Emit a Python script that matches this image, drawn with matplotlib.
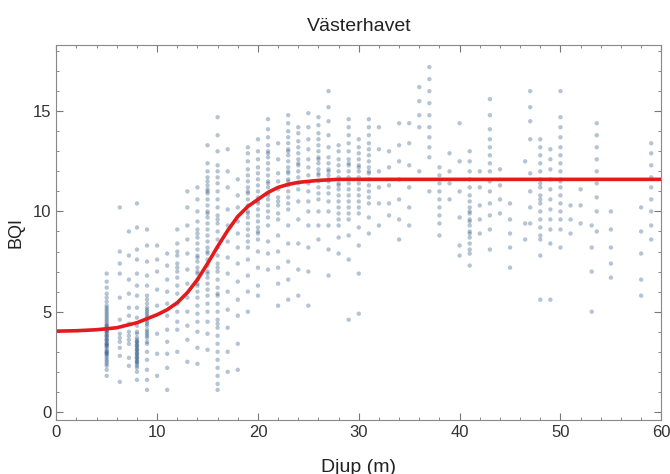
import matplotlib
matplotlib.use("Agg")
import matplotlib.pyplot as plt
from matplotlib.ticker import MultipleLocator

col_05 = [1.8, 2.1, 2.3, 2.5, 2.6, 2.8, 2.9, 3.0, 3.1, 3.2, 3.3, 3.4, 3.5, 3.6, 3.7, 3.8,
          3.9, 4.0, 4.1, 4.2, 4.3, 4.4, 4.5, 4.6, 4.8, 4.9, 5.0, 5.1, 5.3, 5.5, 5.7, 5.9,
          6.2, 6.5, 6.9, 2.4, 2.7, 3.0, 3.3, 3.6, 4.0, 4.3, 4.7, 5.2, 3.4, 2.9, 4.1, 3.8]
col_06 = [10.2, 8.0, 6.9, 5.7, 4.6, 3.9, 3.5, 3.2, 2.8, 1.5, 7.4, 3.7]
col_07 = [9.0, 7.8, 6.6, 5.9, 5.2, 4.4, 4.0, 3.8, 3.4, 2.7, 2.3, 4.8, 3.6]
col_08 = [10.4, 9.2, 8.1, 7.6, 6.9, 6.3, 5.8, 5.2, 4.7, 4.3, 4.0, 3.9, 3.7, 3.6, 3.5, 3.4,
          3.3, 3.2, 3.1, 3.0, 2.9, 2.8, 2.7, 2.6, 2.5, 2.4, 2.3, 2.2, 2.0, 1.6, 3.3, 2.9,
          3.1, 2.7, 3.5, 2.5]
col_09 = [9.1, 8.3, 7.5, 6.8, 6.3, 5.8, 5.6, 5.4, 5.2, 5.0, 4.9, 4.7, 4.6, 4.4, 4.3, 4.1,
          4.0, 3.8, 3.7, 3.5, 3.4, 3.0, 2.6, 2.1, 1.6, 1.1, 5.1, 4.5, 3.9, 4.8]
col_10 = [8.3, 7.0, 6.1, 5.3, 3.9, 2.9, 1.8, 7.6]
col_11 = [7.9, 7.3, 6.6, 6.0, 5.4, 4.8, 4.1, 3.5, 2.9, 2.2, 1.1]
col_12 = [9.1, 8.4, 7.8, 7.4, 7.2, 7.0, 6.7, 6.3, 5.9, 5.4, 5.0, 4.5, 4.1, 3.0, 8.0]
col_13 = [11.0, 10.2, 9.3, 8.6, 7.9, 7.1, 6.4, 5.7, 5.0, 4.3, 3.6, 2.5]
col_14 = [11.2, 10.6, 10.0, 9.5, 9.1, 8.7, 8.4, 8.1, 7.8, 7.5, 7.2, 6.9, 6.6, 6.3, 6.0,
          5.7, 5.3, 4.9, 4.5, 4.0, 3.2, 2.4, 7.0, 6.4, 7.7, 8.9]
col_15 = [12.4, 12.0, 11.7, 11.5, 11.3, 11.1, 10.9, 10.6, 10.3, 10.0, 9.7, 9.4, 9.1, 8.8,
          8.5, 8.2, 7.9, 7.6, 7.3, 7.0, 6.7, 6.4, 6.1, 5.8, 5.4, 5.0, 4.5, 3.9, 3.1, 11.0,
          9.9, 8.0, 6.9, 13.3]
col_16 = [14.7, 13.8, 13.0, 12.3, 12.0, 11.7, 11.4, 11.0, 10.6, 10.2, 9.8, 9.4, 9.0, 8.6,
          8.2, 7.8, 7.4, 7.0, 6.6, 6.2, 5.8, 5.4, 5.0, 4.6, 4.2, 3.8, 3.4, 3.0, 2.6, 2.2,
          1.8, 1.4, 1.1, 9.6, 7.2, 5.9, 4.4]
col_17 = [13.1, 12.0, 11.2, 10.1, 9.3, 8.5, 7.7, 6.9, 6.0, 5.1, 4.2, 3.0, 2.0]
col_18 = [11.6, 10.8, 10.2, 9.5, 8.9, 8.2, 7.4, 6.5, 5.6, 4.8, 3.4, 2.1]
col_19 = [13.2, 12.9, 12.5, 12.1, 11.8, 11.5, 11.2, 10.9, 10.6, 10.3, 10.0, 9.7, 9.4, 9.1,
          8.8, 8.5, 8.2, 7.6, 6.8, 6.0, 5.0, 11.0, 9.9]
col_20 = [13.6, 13.0, 12.6, 12.2, 11.9, 11.6, 11.3, 11.0, 10.7, 10.4, 10.1, 9.8, 9.5, 9.2,
          8.9, 8.6, 8.0, 7.2, 6.3, 5.8, 10.5, 9.0]
col_21 = [14.6, 14.1, 13.7, 13.3, 13.0, 12.7, 12.4, 12.1, 11.8, 11.5, 11.2, 10.9, 10.6,
          10.3, 10.0, 9.7, 9.3, 8.5, 7.9, 7.1, 12.9, 11.4, 10.8]
col_22 = [13.4, 12.6, 11.9, 11.5, 11.1, 10.7, 10.3, 9.9, 9.6, 8.8, 8.0, 7.2, 6.4, 5.3, 10.5]
col_23 = [14.8, 14.4, 14.0, 13.7, 13.4, 13.1, 12.8, 12.5, 12.2, 11.9, 11.6, 11.3, 11.0,
          10.7, 10.4, 10.1, 9.3, 8.4, 7.5, 6.6, 5.6, 12.0, 11.5, 13.0]
col_24 = [14.2, 13.9, 13.5, 13.2, 12.9, 12.6, 12.3, 12.0, 11.7, 11.4, 11.1, 10.5, 9.6, 8.4,
          7.1, 5.8, 12.4]
col_25 = [14.9, 14.2, 13.6, 13.1, 12.6, 12.2, 11.8, 11.4, 11.0, 10.5, 10.0, 9.3, 8.2, 7.0, 5.3]
col_26 = [14.7, 14.3, 13.9, 13.6, 13.3, 13.0, 12.7, 12.4, 12.1, 11.8, 11.5, 11.2, 10.9,
          10.6, 10.0, 9.3, 8.6, 12.6, 11.9]
col_27 = [16.0, 15.2, 14.5, 13.8, 13.2, 12.7, 12.4, 12.1, 11.8, 11.5, 11.2, 10.9, 10.5,
          10.0, 9.3, 8.1, 6.8, 12.0, 11.6]
col_28 = [13.3, 13.0, 12.6, 12.3, 12.0, 11.7, 11.4, 11.1, 10.8, 10.5, 10.2, 9.9, 9.6, 9.3,
          8.7, 7.9, 11.3]
col_29 = [14.6, 14.2, 13.8, 13.4, 13.0, 12.6, 12.3, 12.0, 11.7, 11.4, 11.1, 10.8, 10.5,
          10.2, 9.9, 9.6, 8.8, 7.6, 4.6, 12.4]
col_30 = [13.6, 13.2, 12.9, 12.6, 12.3, 12.0, 11.7, 11.4, 11.1, 10.8, 10.5, 10.2, 9.9, 9.2,
          8.3, 6.9, 4.9, 12.2]
col_31 = [14.6, 14.2, 13.8, 13.4, 13.1, 12.8, 12.5, 12.2, 11.9, 11.6, 11.3, 11.0, 10.7,
          10.4, 9.7, 8.9, 12.0]
col_32 = [14.2, 13.1, 12.0, 11.2, 10.4, 9.3]
col_33 = [13.0, 12.2, 11.3, 10.4, 9.8]
col_34 = [14.4, 13.3, 12.5, 11.6, 10.6, 9.6, 8.6]
col_35 = [14.4, 13.4, 12.3, 11.2, 10.2, 9.3]
col_36 = [16.2, 15.5, 14.8, 14.2, 12.0]
col_37 = [17.2, 16.6, 16.0, 15.4, 14.8, 14.2, 13.7, 13.2, 12.7, 11.0]
col_38 = [12.2, 11.8, 11.4, 11.0, 10.6, 10.2, 9.8, 9.4, 8.8]
col_39 = [12.9, 12.0, 11.4, 10.6]
col_40 = [14.4, 12.5, 11.0, 9.7, 8.3, 7.8]
col_41 = [13.0, 12.5, 12.0, 11.6, 11.2, 10.8, 10.5, 10.2, 9.9, 9.6, 9.3, 9.0, 8.7, 8.4,
          8.1, 7.9, 7.3, 9.5, 10.0, 8.9]
col_42 = [12.0, 11.2, 10.3, 9.6, 8.9]
col_43 = [15.6, 14.8, 14.1, 13.6, 13.2, 12.8, 12.4, 12.0, 11.5, 11.0, 10.4, 9.8, 9.1, 8.1]
col_44 = [12.1, 11.3, 10.6, 9.9]
col_45 = [10.4, 9.6, 8.9, 8.2, 7.2]
col_46 = [9.4, 8.6, 12.5]
col_47 = [16.0, 15.2, 14.5, 13.6, 11.9, 11.0, 10.2, 9.4]
col_48 = [13.6, 13.2, 12.8, 12.4, 12.0, 11.6, 11.2, 10.8, 10.4, 10.0, 9.6, 9.2, 8.8, 8.6,
          7.8, 5.6, 11.4, 10.6]
col_49 = [13.1, 12.6, 12.1, 11.6, 11.1, 10.6, 10.1, 9.6, 9.1, 8.4, 5.6]
col_50 = [16.0, 14.7, 14.2, 13.7, 13.2, 12.8, 12.4, 12.0, 11.6, 11.2, 10.8, 10.4, 10.0,
          9.6, 9.1, 8.2, 11.5]
col_51 = [10.3, 9.6, 8.9]
col_52 = [11.1, 10.3, 9.4]
col_53 = [9.3, 8.2, 7.0, 5.0]
col_54 = [14.4, 13.8, 13.2, 12.6, 12.0, 11.4, 10.7, 10.0, 9.0]
col_55 = [10.0, 9.1, 8.2, 7.4, 6.7]
col_58 = [10.2, 9.0, 7.9, 6.6, 5.8]
col_59 = [13.4, 12.9, 12.3, 11.7, 11.2, 10.6, 10.0, 9.3, 8.6]

depths = [5, 6.3, 7.2, 8, 9, 10, 11, 12, 13, 14, 15, 16, 17, 18, 19, 20, 21, 22, 23, 24,
          25, 26, 27, 28, 29, 30, 31, 32, 33, 34, 35, 36, 37, 38, 39, 40, 41, 42, 43, 44,
          45, 46.5, 47, 48, 49, 50, 51, 52, 53.1, 53.6, 55, 58, 59]
columns = [col_05, col_06, col_07, col_08, col_09, col_10, col_11, col_12, col_13, col_14,
           col_15, col_16, col_17, col_18, col_19, col_20, col_21, col_22, col_23, col_24,
           col_25, col_26, col_27, col_28, col_29, col_30, col_31, col_32, col_33, col_34,
           col_35, col_36, col_37, col_38, col_39, col_40, col_41, col_42, col_43, col_44,
           col_45, col_46, col_47, col_48, col_49, col_50, col_51, col_52, col_53, col_54,
           col_55, col_58, col_59]

# fitted curve
fit_depth = [0, 2, 4, 6, 8, 10, 11, 12, 13, 14, 15, 16, 17, 18, 19, 20, 21, 22, 23, 24,
             26, 28, 30, 40, 50, 60]
fit_bqi = [4.03, 4.05, 4.1, 4.2, 4.45, 4.85, 5.1, 5.45, 5.95, 6.6, 7.4, 8.25, 9.05, 9.75,
           10.25, 10.6, 10.95, 11.2, 11.35, 11.45, 11.55, 11.6, 11.6, 11.6, 11.6, 11.6]

plt.rcParams['font.family'] = ['Liberation Sans', 'DejaVu Sans']

fig = plt.figure(figsize=(6.7, 4.74), dpi=100)
ax = fig.add_axes([0.084, 0.114, 0.903, 0.791])

xs, ys = [], []
for d, vals in zip(depths, columns):
    xs += [d] * len(vals)
    ys += vals
ax.scatter(xs, ys, s=10, color="#1a4a7a", alpha=0.32, edgecolors="none")

ax.plot(fit_depth, fit_bqi, color="#e41a1c", linewidth=2.6, solid_capstyle="butt")

ax.set_xlim(0, 60)
ax.set_ylim(-0.4, 18.3)
ax.xaxis.set_major_locator(MultipleLocator(10))
ax.xaxis.set_minor_locator(MultipleLocator(2))
ax.yaxis.set_major_locator(MultipleLocator(5))
ax.yaxis.set_minor_locator(MultipleLocator(1))
ax.tick_params(which="both", direction="in", top=True, right=True, color="#777777",
               labelsize=12, labelcolor="#333333")
ax.tick_params(which="major", length=5)
ax.tick_params(which="minor", length=2.5)
for sp in ax.spines.values():
    sp.set_color("#888888")

ax.set_title("Västerhavet", fontsize=14, color="#222222", pad=10)
ax.set_xlabel("Djup (m)", fontsize=14, color="#222222", labelpad=14)
ax.set_ylabel("BQI", fontsize=13, color="#222222", labelpad=6)

plt.savefig("out.png", dpi=100)
